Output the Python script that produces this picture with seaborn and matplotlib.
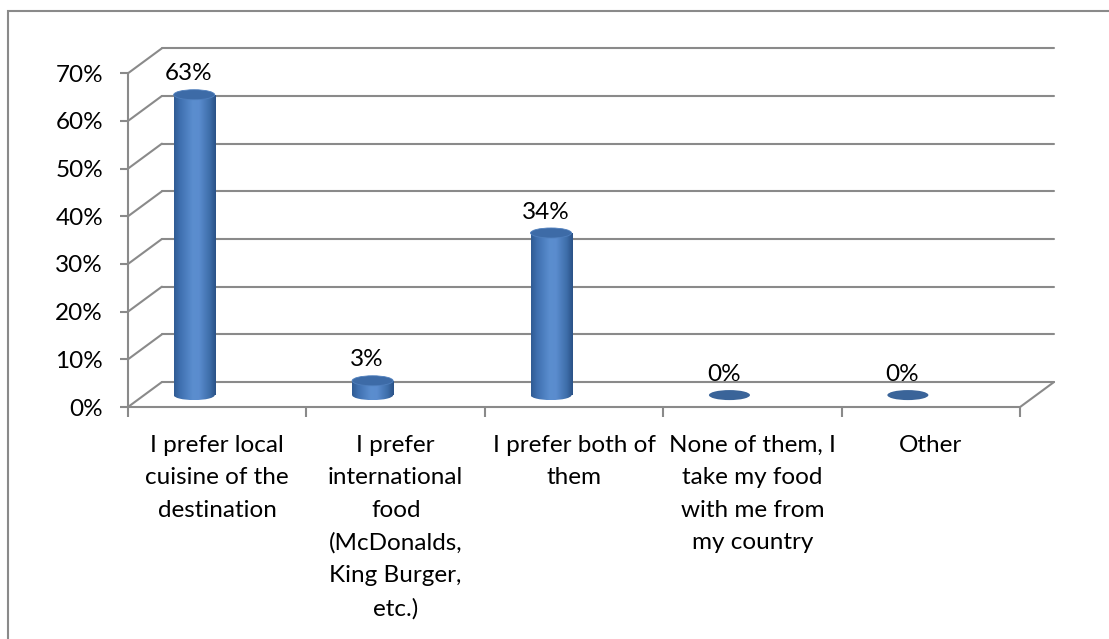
import numpy as np
import pandas as pd
import matplotlib
matplotlib.use("Agg")
import matplotlib.pyplot as plt
import seaborn as sns
from matplotlib.patches import Ellipse, Rectangle
from matplotlib.colors import LinearSegmentedColormap

# ---- data ----
categories = [
    "I prefer local\ncuisine of the\ndestination",
    "I prefer\ninternational\nfood\n(McDonalds,\nKing Burger,\netc.)",
    "I prefer both of\nthem",
    "None of them, I\ntake my food\nwith me from\nmy country",
    "Other",
]
values = [63, 3, 34, 0, 0]
y_ticks = [0, 10, 20, 30, 40, 50, 60, 70]
y_tick_labels = ["0%", "10%", "20%", "30%", "40%", "50%", "60%", "70%"]

# ---- style ----
sns.set_theme(style="white")
plt.rcParams["font.family"] = ["Lato", "DejaVu Sans"]
FS = 17.5
GRAY = "#8a8a8a"
LW = 1.5

W, H = 1109, 639
fig = plt.figure(figsize=(W / 100, H / 100), dpi=100)
fig.patch.set_facecolor("white")
ax = fig.add_axes([128 / W, 232 / H, 926 / W, 359 / H])
ax.set_facecolor("none")

XL = (-0.5, 4.69)
YL = (0, 75.3)
DX, DY = 0.19, 5.24      # 3-D depth offset in data units
SHIFT = -0.129           # cylinder offset from category centre
BASE = 2.5               # cylinder base (mid-depth)
CW = 0.23                # cylinder width
EH = 2.1                 # ellipse height

n = len(values)
x0, x1 = -0.5, n - 0.5

# walls and floor
for t in y_ticks:
    ax.plot([x0 + DX, x1 + DX], [t + DY, t + DY], color=GRAY, lw=LW, zorder=1, clip_on=False)
    ax.plot([x0, x0 + DX], [t, t + DY], color=GRAY, lw=LW, zorder=1, clip_on=False)
ax.plot([x0, x0], [0, y_ticks[-1]], color=GRAY, lw=LW, zorder=1, clip_on=False)
ax.plot([x0, x1], [0, 0], color=GRAY, lw=LW, zorder=1, clip_on=False)
ax.plot([x1, x1 + DX], [0, DY], color=GRAY, lw=LW, zorder=1, clip_on=False)

# cylinders via seaborn bars
df = pd.DataFrame({"pos": np.arange(n) + SHIFT, "value": values})
sns.barplot(data=df, x="pos", y="value", native_scale=True, width=CW,
            bottom=BASE, color="#4a7bbd", errorbar=None, ax=ax, zorder=3,
            linewidth=0)

cmap = LinearSegmentedColormap.from_list(
    "cyl", [(0.0, "#2f5b93"), (0.15, "#3f70b0"), (0.45, "#5b8ecf"),
            (0.6, "#5a8cce"), (0.85, "#3e6eaa"), (1.0, "#2a5186")])
grad = np.linspace(0, 1, 256).reshape(1, -1)

for patch, v in zip(ax.patches, values):
    bx, bw = patch.get_x(), patch.get_width()
    cx = bx + bw / 2
    if v > 0:
        for clip in (patch, None):
            im = ax.imshow(grad, cmap=cmap, aspect="auto", interpolation="bilinear",
                           extent=[bx, bx + bw, BASE - EH / 2, BASE + v], zorder=4)
            if clip is None:
                ell = Ellipse((cx, BASE), bw, EH, transform=ax.transData,
                              facecolor="none", edgecolor="none")
                ax.add_patch(ell)
                im.set_clip_path(ell)
            else:
                im.set_clip_path(clip)
        ax.add_patch(Ellipse((cx, BASE + v), bw, EH, angle=0,
                             facecolor="#3d6ba7", edgecolor="#4f7fbd", lw=0.6, zorder=5))
    else:
        patch.set_visible(False)
        ax.add_patch(Ellipse((cx, BASE), bw, EH, facecolor="#3a6499",
                             edgecolor="none", zorder=5))
    ax.annotate(f"{v}%", xy=(cx, BASE + v), xytext=(-4, 15),
                textcoords="offset points", ha="center", va="center",
                fontsize=FS, color="black", zorder=6)

ax.set_xlim(*XL)
ax.set_ylim(*YL)
for s in ax.spines.values():
    s.set_visible(False)

ax.set_yticks(y_ticks, y_tick_labels)
ax.tick_params(axis="y", length=6, width=LW, color=GRAY, pad=12,
               labelsize=FS, labelcolor="black", left=True)
ax.set_xticks(np.arange(n), categories)
ax.set_xticks(np.arange(n + 1) - 0.5, minor=True)
ax.tick_params(axis="x", which="major", length=0, pad=20, labelsize=FS,
               labelcolor="black")
ax.tick_params(axis="x", which="minor", length=7, width=LW, color=GRAY,
               bottom=True)
for lab in ax.get_xticklabels():
    lab.set_linespacing(1.67)
    lab.set_multialignment("center")
ax.set_xlabel("")
ax.set_ylabel("")
ax.grid(False)

fig.patches.append(Rectangle((8 / W, -0.1), 1.2, (H - 11) / H + 0.1,
                             transform=fig.transFigure, fill=False,
                             edgecolor=GRAY, lw=LW))

fig.savefig("out.png", dpi=100, facecolor="white")
